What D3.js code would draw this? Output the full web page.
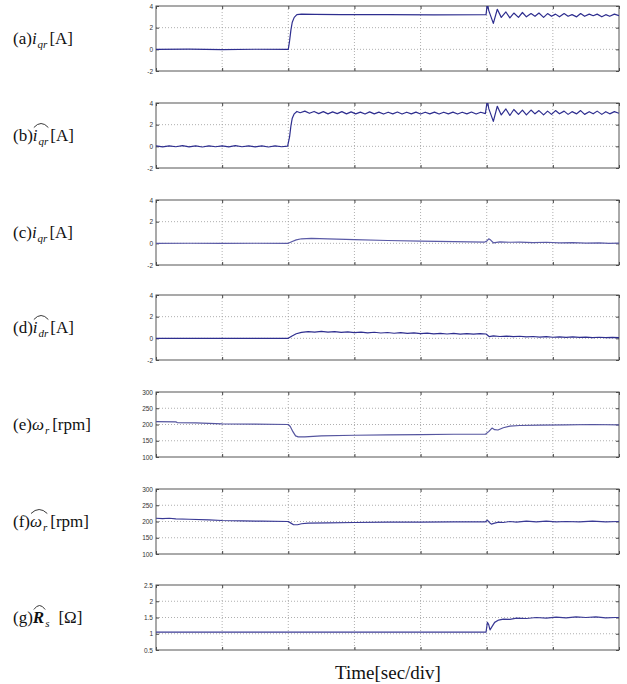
<!DOCTYPE html>
<html><head><meta charset="utf-8">
<script src="https://cdn.jsdelivr.net/npm/d3@7"></script>
<style>body{margin:0;background:#fff}</style>
</head><body>
<svg id="c" width="627" height="684"></svg>
<script>
// ---------- DATA (time in divisions, value) ----------
const timeDomain = [0, 7];
const timeTicks = [0, 1, 2, 3, 4, 5, 6, 7];
const currentTicks = [-2, 0, 2, 4];
const currentTickLabels = ["-2", "0", "2", "4"];
const speedTicks = [100, 150, 200, 250, 300];
const speedTickLabels = ["100", "150", "200", "250", "300"];
const rsTicks = [0.5, 1, 1.5, 2, 2.5];
const rsTickLabels = ["0.5", "1", "1.5", "2", "2.5"];

const iqr = [[0,0],[0.5,0.02],[1,-0.02],[1.5,0.01],[2,0],[2.02,0.8],[2.04,1.8],[2.06,2.5],[2.09,2.95],[2.13,3.2],[2.2,3.25],[2.4,3.22],[2.8,3.2],[3.5,3.2],[4.2,3.18],[4.99,3.2],[5.01,4.3],[5.03,3.6],[5.1,2.4],[5.16,3.7],[5.22,2.95],[5.29,3.45],[5.35,2.9],[5.41,3.35],[5.48,2.95],[5.54,3.4],[5.6,3.0],[5.67,3.3],[5.73,3.05],[5.79,3.35],[5.86,2.95],[5.92,3.3],[5.98,3.05],[6.04,3.25],[6.1,3.0],[6.17,3.3],[6.23,3.05],[6.29,3.2],[6.36,3.0],[6.42,3.3],[6.48,3.05],[6.55,3.25],[6.61,3.1],[6.67,3.25],[6.74,3.0],[6.8,3.2],[6.86,3.05],[6.93,3.25],[7,3.1]];

const iqrHat = [[0,0.04],[0.1,-0.05],[0.2,0.05],[0.3,-0.04],[0.4,0.06],[0.5,-0.05],[0.6,0.04],[0.7,-0.06],[0.8,0.05],[0.9,-0.04],[1.0,0.05],[1.1,-0.05],[1.2,0.06],[1.3,-0.04],[1.4,0.05],[1.5,-0.05],[1.6,0.04],[1.7,-0.06],[1.8,0.05],[1.9,-0.04],[1.99,0.02],[2.02,0.9],[2.04,1.9],[2.06,2.6],[2.09,3.0],[2.13,3.22],[2.18,3.1],[2.25,3.25],[2.32,3.05],[2.39,3.22],[2.46,3.02],[2.53,3.2],[2.6,3.0],[2.67,3.18],[2.74,3.02],[2.81,3.2],[2.88,3.0],[2.95,3.18],[3.02,3.0],[3.09,3.16],[3.16,2.98],[3.23,3.18],[3.3,3.0],[3.37,3.16],[3.44,2.98],[3.51,3.15],[3.58,3.0],[3.65,3.17],[3.72,2.98],[3.79,3.15],[3.86,3.0],[3.93,3.16],[4.0,2.98],[4.07,3.15],[4.14,3.0],[4.21,3.16],[4.28,2.98],[4.35,3.15],[4.42,3.0],[4.49,3.16],[4.56,2.98],[4.63,3.15],[4.7,3.0],[4.77,3.17],[4.84,2.98],[4.91,3.15],[4.98,3.02],[5.01,4.3],[5.03,3.5],[5.1,2.3],[5.16,3.7],[5.22,2.9],[5.29,3.45],[5.35,2.85],[5.41,3.4],[5.48,2.95],[5.54,3.35],[5.6,2.9],[5.67,3.35],[5.73,3.0],[5.79,3.3],[5.86,2.9],[5.92,3.25],[5.98,2.95],[6.04,3.3],[6.1,3.0],[6.17,3.25],[6.23,2.95],[6.29,3.2],[6.36,3.0],[6.42,3.3],[6.48,2.95],[6.55,3.2],[6.61,3.0],[6.67,3.25],[6.74,2.95],[6.8,3.2],[6.86,3.0],[6.93,3.2],[7,3.05]];

const idr = [[0,0],[0.5,0.01],[1,0],[1.5,0.01],[2,0],[2.05,0.15],[2.12,0.32],[2.2,0.42],[2.35,0.46],[2.6,0.42],[3.0,0.34],[3.5,0.26],[4.0,0.2],[4.5,0.15],[4.97,0.12],[5.0,0.2],[5.03,0.42],[5.06,0.3],[5.1,0.05],[5.2,0.13],[5.35,0.1],[5.5,0.12],[5.7,0.07],[5.9,0.1],[6.1,0.05],[6.3,0.07],[6.5,0.02],[6.7,0.05],[6.85,0.0],[7,0.02]];

const idrHat = [[0,0],[1,0],[2,0],[2.05,0.2],[2.12,0.42],[2.2,0.55],[2.3,0.62],[2.4,0.58],[2.5,0.64],[2.6,0.57],[2.7,0.62],[2.8,0.55],[2.9,0.6],[3.0,0.53],[3.1,0.58],[3.2,0.5],[3.3,0.56],[3.4,0.49],[3.5,0.54],[3.6,0.47],[3.7,0.52],[3.8,0.45],[3.9,0.5],[4.0,0.43],[4.1,0.48],[4.2,0.42],[4.3,0.46],[4.4,0.4],[4.5,0.45],[4.6,0.39],[4.7,0.44],[4.8,0.38],[4.9,0.43],[4.99,0.4],[5.04,0.15],[5.1,0.22],[5.2,0.17],[5.3,0.21],[5.4,0.15],[5.5,0.19],[5.6,0.13],[5.7,0.17],[5.8,0.12],[5.9,0.16],[6.0,0.1],[6.1,0.14],[6.2,0.09],[6.3,0.13],[6.4,0.08],[6.5,0.12],[6.6,0.07],[6.7,0.1],[6.8,0.06],[6.9,0.09],[7,0.06]];

const wr = [[0,209],[0.3,208],[0.32,206],[0.6,205],[1,202],[1.5,201],[2,200],[2.03,194],[2.07,178],[2.11,165],[2.15,162],[2.25,162],[2.5,165],[3,167],[3.5,168],[4,169],[4.5,170],[4.98,170],[5.03,178],[5.08,189],[5.12,184],[5.17,183],[5.25,190],[5.35,195],[5.5,197],[5.8,198],[6.2,199],[6.6,200],[7,199]];

const wrHat = [[0,210],[0.1,209],[0.2,210],[0.3,208],[0.5,207],[0.8,205],[1,203],[1.3,202],[1.6,201],[2,200],[2.04,195],[2.08,190],[2.14,190],[2.2,193],[2.3,195],[2.6,196],[3,197],[3.5,198],[4,198],[4.5,199],[4.98,199],[5.01,204],[5.04,197],[5.07,192],[5.12,195],[5.18,198],[5.25,197],[5.35,200],[5.45,198],[5.6,201],[5.75,199],[5.9,201],[6.05,199],[6.2,200],[6.4,199],[6.6,201],[6.8,199],[7,200]];

const rsHat = [[0,1.05],[1,1.05],[2,1.05],[3,1.05],[4,1.05],[4.99,1.05],[5.01,1.35],[5.03,1.28],[5.05,1.12],[5.08,1.22],[5.12,1.35],[5.18,1.42],[5.25,1.45],[5.35,1.44],[5.45,1.48],[5.6,1.47],[5.75,1.5],[5.9,1.48],[6.05,1.51],[6.2,1.49],[6.35,1.52],[6.5,1.5],[6.65,1.52],[6.8,1.49],[6.95,1.5],[7,1.5]];

const panelLabels = [
  [{t:"(a)"},{t:"i",it:1},{t:"qr",it:1,sub:1},{t:"[A]",dx:2}],
  [{t:"(b)"},{t:"i",it:1,hat:"s"},{t:"qr",it:1,sub:1,hat:"e"},{t:"[A]",dx:2}],
  [{t:"(c)"},{t:"i",it:1},{t:"qr",it:1,sub:1},{t:"[A]",dx:2}],
  [{t:"(d)"},{t:"i",it:1,hat:"s"},{t:"dr",it:1,sub:1,hat:"e"},{t:"[A]",dx:2}],
  [{t:"(e)"},{t:"\u03c9",it:1},{t:"r",it:1,sub:1},{t:"[rpm]",dx:3}],
  [{t:"(f)"},{t:"\u03c9",it:1,hat:"s"},{t:"r",it:1,sub:1,hat:"e"},{t:"[rpm]",dx:3}],
  [{t:"(g)"},{t:"R",it:1,bold:1,hat:"se"},{t:"s",it:1,sub:1},{t:"[\u03a9]",dx:9}]
];
const xTitle = "Time[sec/div]";

// ---------- LAYOUT ----------
const svg = d3.select("#c");
const left = 156, right = 619, ph = 65;
const tops = [6, 103, 200, 295, 392, 489, 585];
const panels = [
  {data: iqr, domain: [-2,4], ticks: currentTicks, labels: currentTickLabels, color:"#2e2e8f"},
  {data: iqrHat, domain: [-2,4], ticks: currentTicks, labels: currentTickLabels, color:"#2e2e8f"},
  {data: idr, domain: [-2,4], ticks: currentTicks, labels: currentTickLabels, color:"#5a5aa6"},
  {data: idrHat, domain: [-2,4], ticks: currentTicks, labels: currentTickLabels, color:"#2e2e8f"},
  {data: wr, domain: [100,300], ticks: speedTicks, labels: speedTickLabels, color:"#55559f"},
  {data: wrHat, domain: [100,300], ticks: speedTicks, labels: speedTickLabels, color:"#3a3a95"},
  {data: rsHat, domain: [0.5,2.5], ticks: rsTicks, labels: rsTickLabels, color:"#3a3a95"}
];

const x = d3.scaleLinear().domain(timeDomain).range([left, right]);

panels.forEach((p, i) => {
  const top = tops[i], bot = top + ph;
  const y = d3.scaleLinear().domain(p.domain).range([bot, top]);
  const g = svg.append("g");
  const clipId = "clip" + i;
  svg.append("clipPath").attr("id", clipId).append("rect")
    .attr("x", left).attr("y", top).attr("width", right-left).attr("height", ph);

  const grid = g.append("g").attr("stroke", "#9a9a9a").attr("stroke-width", 0.8).attr("stroke-dasharray", "1,2");
  grid.selectAll("line.v").data(timeTicks.slice(1, -1)).join("line")
    .attr("x1", d => x(d)).attr("x2", d => x(d)).attr("y1", top).attr("y2", bot);
  grid.selectAll("line.h").data(p.ticks.slice(1, -1)).join("line").attr("class","h")
    .attr("x1", left).attr("x2", right).attr("y1", d => y(d)).attr("y2", d => y(d));

  const ax = (gen, tr) => {
    const a = g.append("g").attr("transform", tr).call(gen);
    a.select(".domain").remove();
    a.selectAll("line").attr("stroke", "#444");
    return a;
  };
  const yl = ax(d3.axisLeft(y).tickValues(p.ticks).tickFormat((d, k) => p.labels[k]).tickSizeInner(-3).tickSizeOuter(0).tickPadding(3), `translate(${left},0)`);
  yl.selectAll("text").attr("font-family", "Liberation Sans, Arial, sans-serif").attr("font-size", 6.5).attr("fill", "#333");
  ax(d3.axisRight(y).tickValues(p.ticks).tickFormat("").tickSizeInner(-3).tickSizeOuter(0), `translate(${right},0)`);
  ax(d3.axisBottom(x).tickValues(timeTicks).tickFormat("").tickSizeInner(-3).tickSizeOuter(0), `translate(0,${bot})`);
  ax(d3.axisTop(x).tickValues(timeTicks).tickFormat("").tickSizeInner(-3).tickSizeOuter(0), `translate(0,${top})`);

  g.append("rect").attr("x", left).attr("y", top).attr("width", right-left).attr("height", ph)
    .attr("fill", "none").attr("stroke", "#555").attr("stroke-width", 1);

  g.append("path").datum(p.data).attr("clip-path", `url(#${clipId})`)
    .attr("d", d3.line().x(d => x(d[0])).y(d => y(d[1])))
    .attr("fill", "none").attr("stroke", p.color).attr("stroke-width", 1.2).attr("stroke-linejoin", "round");

  const baseY = top + ph/2 + 5;
  let cx = 13, hs = null;
  panelLabels[i].forEach(s => {
    cx += s.dx || 0;
    const t = svg.append("text").attr("x", cx).attr("y", baseY + (s.sub ? 4 : 0))
      .attr("font-family", "Liberation Serif, Times New Roman, serif")
      .attr("font-size", s.sub ? 11 : 17).attr("fill", "#111")
      .attr("font-style", s.it ? "italic" : "normal")
      .attr("font-weight", s.bold ? "bold" : "normal").text(s.t);
    const w = t.node().getComputedTextLength();
    if (s.hat && s.hat.includes("s")) hs = cx;
    cx += w + (s.it && !s.sub ? 1 : 0);
    if (s.hat && s.hat.includes("e")) {
      const x0 = hs + 1, x1 = cx;
      svg.append("path").attr("d", `M${x0},${baseY-13} Q${(x0+x1)/2},${baseY-21} ${x1},${baseY-13}`)
        .attr("fill", "none").attr("stroke", "#222").attr("stroke-width", 0.9);
    }
  });
});

svg.append("text").attr("x", 388).attr("y", 679).attr("text-anchor", "middle")
  .attr("font-family", "Liberation Serif, Times New Roman, serif").attr("font-size", 19).attr("fill", "#111")
  .text(xTitle);
</script>
</body></html>
